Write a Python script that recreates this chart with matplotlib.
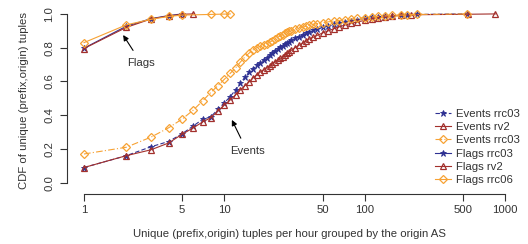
import matplotlib
matplotlib.use("Agg")
import matplotlib.pyplot as plt

plt.rcParams['font.family'] = ['Liberation Sans', 'DejaVu Sans']

# Events curves (CDF vs tuples per hour)
ev_x = [1, 2, 3, 4, 5, 6, 7, 8, 9, 10, 11, 12, 13, 14, 15, 16, 17, 18, 19, 20,
        21, 22, 23, 24, 25, 26, 27, 28, 29, 30, 32, 34, 36, 38, 40, 43, 46, 50,
        55, 60, 66, 72, 80, 88, 100, 112, 125, 140, 157, 180]
ev_rrc03 = [0.09, 0.16, 0.213, 0.244, 0.29, 0.336, 0.376, 0.39, 0.435, 0.474,
            0.51, 0.55, 0.59, 0.625, 0.655, 0.675, 0.695, 0.71, 0.725, 0.74,
            0.755, 0.77, 0.782, 0.793, 0.803, 0.812, 0.82, 0.828, 0.836, 0.843,
            0.855, 0.866, 0.876, 0.886, 0.894, 0.903, 0.911, 0.92,
            0.93, 0.938, 0.946, 0.953, 0.96, 0.966, 0.973, 0.979, 0.983, 0.987, 0.99, 0.993]
ev_rv2 = [0.09, 0.16, 0.195, 0.235, 0.287, 0.325, 0.36, 0.385, 0.425, 0.46,
          0.49, 0.52, 0.55, 0.575, 0.597, 0.62, 0.64, 0.655, 0.669, 0.682,
          0.693, 0.705, 0.716, 0.727, 0.737, 0.747, 0.757, 0.766, 0.776, 0.785,
          0.8, 0.814, 0.826, 0.837, 0.85, 0.862, 0.874, 0.887,
          0.9, 0.912, 0.924, 0.934, 0.944, 0.952, 0.962, 0.97, 0.977, 0.982, 0.987, 0.991]
ev_rrc06 = [0.17, 0.21, 0.27, 0.325, 0.377, 0.43, 0.485, 0.535, 0.575, 0.613,
            0.648, 0.68, 0.715, 0.745, 0.768, 0.787, 0.8, 0.808, 0.815, 0.823,
            0.832, 0.842, 0.852, 0.862, 0.87, 0.878, 0.885, 0.891, 0.896, 0.9,
            0.908, 0.915, 0.921, 0.927, 0.932, 0.938, 0.943, 0.948,
            0.953, 0.957, 0.961, 0.966, 0.97, 0.974, 0.978, 0.982, 0.985, 0.988, 0.991, 0.993]
# sparse tail points
tail_x_rrc03 = [200, 237, 536]
tail_rrc03 = [0.995, 0.997, 1.0]
tail_x_rv2 = [214, 540, 850]
tail_rv2 = [0.995, 0.998, 1.0]
tail_x_rrc06 = [200, 237, 536]
tail_rrc06 = [0.995, 0.997, 1.0]

# Flags curves
fl_x_rrc03 = [1, 2, 3, 4, 5]
fl_rrc03 = [0.797, 0.927, 0.972, 0.99, 1.0]
fl_x_rv2 = [1, 2, 3, 4, 5, 6]
fl_rv2 = [0.795, 0.92, 0.97, 0.988, 0.998, 1.0]
fl_x_rrc06 = [1, 2, 3, 4, 5, 8, 10, 11]
fl_rrc06 = [0.83, 0.935, 0.968, 0.985, 0.993, 0.997, 0.999, 1.0]

blue = '#2e3192'
red = '#a3302c'
orange = '#f7a234'
txt = '#333333'
fs = 8.2

fig = plt.figure(figsize=(5.28, 2.44), dpi=100)
ax = fig.add_axes([67 / 528, 1 - 194 / 244, 445 / 528, 187 / 244])

star = dict(marker='*', markersize=5, color=blue, markeredgewidth=0.6)
tri = dict(marker='^', markersize=5, color=red, markerfacecolor='none', markeredgewidth=0.9)
dia = dict(marker='D', markersize=4, color=orange, markerfacecolor='none', markeredgewidth=0.9)

ax.plot(ev_x + tail_x_rrc03, ev_rrc03 + tail_rrc03, linestyle=(0, (4, 2)), lw=0.8,
        label='Events rrc03', **star)
ax.plot(ev_x + tail_x_rv2, ev_rv2 + tail_rv2, linestyle='-', lw=0.8,
        label='Events rv2', **tri)
ax.plot(ev_x + tail_x_rrc06, ev_rrc06 + tail_rrc06, linestyle=(0, (6, 2, 1, 2)), lw=0.8,
        label='Events rrc03', **dia)
ax.plot(fl_x_rrc03, fl_rrc03, linestyle='-', lw=0.8, label='Flags rrc03', **star)
ax.plot(fl_x_rv2, fl_rv2, linestyle='-', lw=0.8, label='Flags rv2', **tri)
ax.plot(fl_x_rrc06, fl_rrc06, linestyle='-', lw=0.8, label='Flags rrc06', **dia)

ax.set_xscale('log')
ax.set_xlim(10 ** -0.121, 10 ** 3.048)
ax.set_ylim(-0.067, 1.041)

xt = [1, 5, 10, 50, 100, 500, 1000]
ax.set_xticks(xt)
ax.set_xticklabels([str(v) for v in xt])
ax.minorticks_off()
ax.set_yticks([0.0, 0.2, 0.4, 0.6, 0.8, 1.0])
ax.set_yticklabels(['0.0', '0.2', '0.4', '0.6', '0.8', '1.0'])
for lab in ax.get_yticklabels():
    lab.set_rotation(90)
    lab.set_va('center')

for s in ['top', 'right']:
    ax.spines[s].set_visible(False)
ax.spines['left'].set_bounds(0, 1)
ax.spines['bottom'].set_bounds(1, 1000)
for s in ['left', 'bottom']:
    ax.spines[s].set_color(txt)
    ax.spines[s].set_linewidth(0.8)
ax.tick_params(axis='both', direction='out', length=5, width=0.8, color=txt,
               labelsize=fs, labelcolor=txt)
ax.tick_params(axis='x', pad=3)
ax.tick_params(axis='y', pad=4)

ax.set_xlabel('Unique (prefix,origin) tuples per hour grouped by the origin AS',
              fontsize=fs, color=txt, labelpad=10)
ax.set_ylabel('CDF of unique (prefix,origin) tuples', fontsize=fs, color=txt,
              labelpad=11)

ax.annotate('Flags', xy=(1.9, 0.875), xytext=(2.55, 0.71), fontsize=fs, color=txt,
            ha='center', va='center',
            arrowprops=dict(arrowstyle='-|>', color='black', lw=0.8, shrinkB=0,
                            shrinkA=4, mutation_scale=8))
ax.annotate('Events', xy=(11.3, 0.372), xytext=(14.5, 0.188), fontsize=fs, color=txt,
            ha='center', va='center',
            arrowprops=dict(arrowstyle='-|>', color='black', lw=0.8, shrinkB=0,
                            shrinkA=4, mutation_scale=8))

leg = ax.legend(loc='upper left', bbox_to_anchor=(435 / 528, 1 - 109 / 244),
                bbox_transform=fig.transFigure, frameon=False, fontsize=fs,
                handlelength=1.4, handletextpad=0.4, labelspacing=0.28,
                borderpad=0, borderaxespad=0)
for t in leg.get_texts():
    t.set_color(txt)

fig.savefig('out.png', dpi=100)
